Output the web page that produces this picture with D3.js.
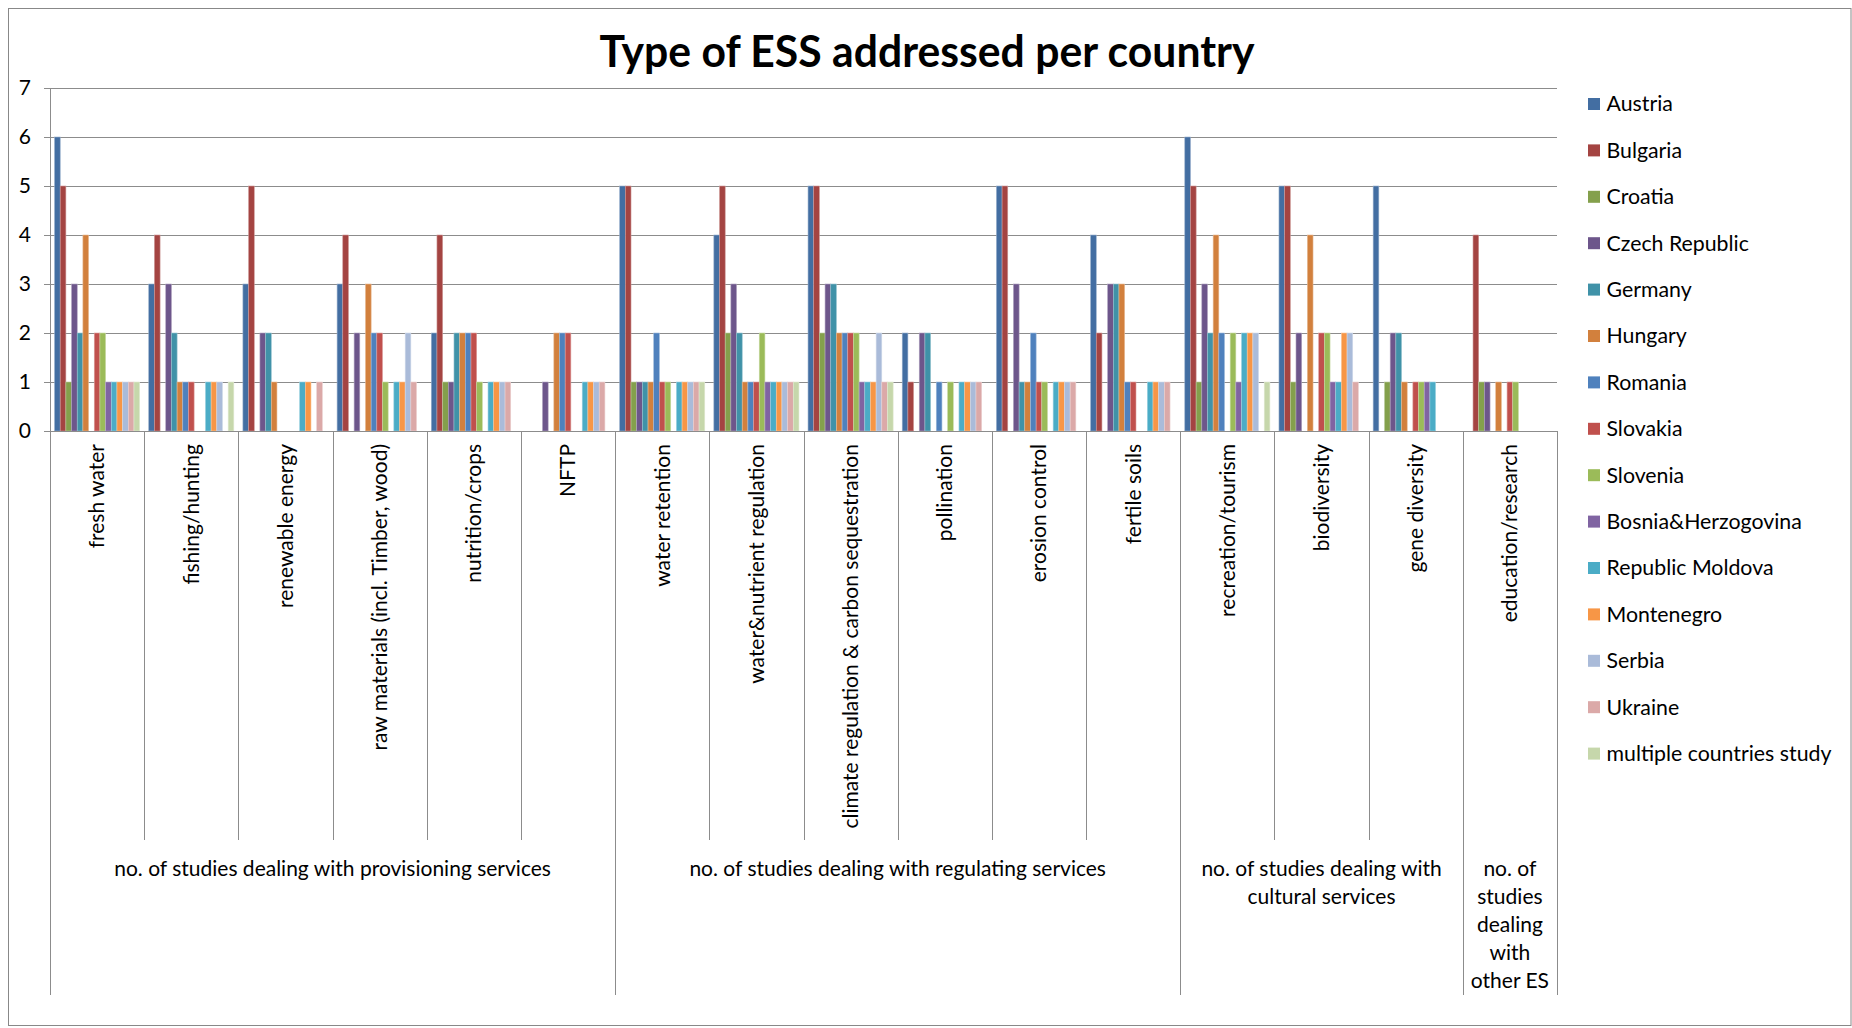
<!DOCTYPE html>
<html>
<head>
<meta charset="utf-8">
<title>Type of ESS addressed per country</title>
<script src="https://cdn.jsdelivr.net/npm/d3@7"></script>
<style>
  html, body { margin: 0; padding: 0; background: #fff; }
  svg { display: block; }
  text { font-family: Lato, "Open Sans", "Liberation Sans", sans-serif; fill: #000; }
</style>
</head>
<body>
<svg id="chart" width="1852" height="1028"></svg>
<script>
// ---- data ----
const categories = [
  "fresh water", "fishing/hunting", "renewable energy",
  "raw materials (incl. Timber, wood)", "nutrition/crops", "NFTP",
  "water retention", "water&nutrient regulation",
  "climate regulation & carbon sequestration", "pollination",
  "erosion control", "fertile soils",
  "recreation/tourism", "biodiversity", "gene diversity",
  "education/research"
];

const groupLabels = [
  ["no. of studies dealing with provisioning services"],
  ["no. of studies dealing with regulating services"],
  ["no. of studies dealing with", "cultural services"],
  ["no. of", "studies", "dealing", "with", "other ES"]
];
const groupSizes = [6, 6, 3, 1];

const series = [
  "Austria", "Bulgaria", "Croatia", "Czech Republic", "Germany", "Hungary",
  "Romania", "Slovakia", "Slovenia", "Bosnia&Herzogovina", "Republic Moldova",
  "Montenegro", "Serbia", "Ukraine", "multiple countries study"
];

// number of studies per service, one array per country (same order as categories)
const austria      = [6, 3, 3, 3, 2, 0, 5, 4, 5, 2, 5, 4, 6, 5, 5, 0];
const bulgaria     = [5, 4, 5, 4, 4, 0, 5, 5, 5, 1, 5, 2, 5, 5, 0, 4];
const croatia      = [1, 0, 0, 0, 1, 0, 1, 2, 2, 0, 0, 0, 1, 1, 1, 1];
const czechRep     = [3, 3, 2, 2, 1, 1, 1, 3, 3, 2, 3, 3, 3, 2, 2, 1];
const germany      = [2, 2, 2, 0, 2, 0, 1, 2, 3, 2, 1, 3, 2, 0, 2, 0];
const hungary      = [4, 1, 1, 3, 2, 2, 1, 1, 2, 0, 1, 3, 4, 4, 1, 1];
const romania      = [0, 1, 0, 2, 2, 2, 2, 1, 2, 1, 2, 1, 2, 0, 0, 0];
const slovakia     = [2, 1, 0, 2, 2, 2, 1, 1, 2, 0, 1, 1, 0, 2, 1, 1];
const slovenia     = [2, 0, 0, 1, 1, 0, 1, 2, 2, 1, 1, 0, 2, 2, 1, 1];
const bosnia       = [1, 0, 0, 0, 0, 0, 0, 1, 1, 0, 0, 0, 1, 1, 1, 0];
const moldova      = [1, 1, 1, 1, 1, 1, 1, 1, 1, 1, 1, 1, 2, 1, 1, 0];
const montenegro   = [1, 1, 1, 1, 1, 1, 1, 1, 1, 1, 1, 1, 2, 2, 0, 0];
const serbia       = [1, 1, 0, 2, 1, 1, 1, 1, 2, 1, 1, 1, 2, 2, 0, 0];
const ukraine      = [1, 0, 1, 1, 1, 1, 1, 1, 1, 1, 1, 1, 0, 1, 0, 0];
const multiCountry = [1, 1, 0, 0, 0, 0, 1, 1, 1, 0, 0, 0, 1, 0, 0, 0];

const seriesValues = [
  austria, bulgaria, croatia, czechRep, germany, hungary, romania, slovakia,
  slovenia, bosnia, moldova, montenegro, serbia, ukraine, multiCountry
];

const yTicks = [0, 1, 2, 3, 4, 5, 6, 7];

// ---- styling ----
const colors = [
  "#436EA2", "#A44442", "#84A04C", "#6D568B", "#4092A8", "#D2803D",
  "#4F81BD", "#C0504D", "#9BBB59", "#8064A2", "#4BACC6", "#F79646",
  "#AABBD9", "#DBA9A8", "#C6D7AB"
];

const svg = d3.select("#chart");
const W = 1852, H = 1028;
const plot = { left: 50, right: 1557, top: 88, bottom: 431 };
const gridColor = "#8c8c8c";
const fontSize = 21;

// chart frame
svg.append("rect")
  .attr("x", 8.5).attr("y", 8.5)
  .attr("width", W - 9.5).attr("height", H - 11)
  .attr("fill", "#fff").attr("stroke", "#888").attr("stroke-width", 1);

// scales
const y = d3.scaleLinear().domain([0, 7]).range([plot.bottom, plot.top]);
const x0 = d3.scaleBand().domain(categories).range([plot.left, plot.right]).padding(0);
const x1 = d3.scaleBand().domain(series).range([0, x0.bandwidth()])
  .paddingInner(0).paddingOuter(0.8);
const color = d3.scaleOrdinal().domain(series).range(colors);

// horizontal gridlines
const grid = svg.append("g")
  .attr("transform", `translate(${plot.left},0)`)
  .call(d3.axisLeft(y).tickValues(yTicks).tickSize(-(plot.right - plot.left)).tickFormat(""));
grid.select(".domain").remove();
grid.selectAll(".tick line").attr("stroke", gridColor).attr("shape-rendering", "crispEdges");

// bars
const rows = categories.map((c, ci) => ({
  category: c,
  values: series.map((s, si) => ({ series: s, value: seriesValues[si][ci] }))
}));

svg.append("g").selectAll("g")
  .data(rows)
  .join("g")
  .attr("transform", d => `translate(${x0(d.category)},0)`)
  .selectAll("rect")
  .data(d => d.values.filter(v => v.value > 0))
  .join("rect")
  .attr("x", d => x1(d.series))
  .attr("y", d => y(d.value))
  .attr("width", x1.bandwidth())
  .attr("height", d => y(0) - y(d.value))
  .attr("fill", d => color(d.series))
  .attr("stroke", d => d3.interpolateRgb(color(d.series), "#fff")(0.45))
  .attr("stroke-width", 0.6);

// value axis
const yAxis = svg.append("g")
  .attr("transform", `translate(${plot.left},0)`)
  .call(d3.axisLeft(y).tickValues(yTicks).tickSize(6).tickPadding(13).tickFormat(d3.format("d")));
yAxis.select(".domain").remove();
yAxis.selectAll(".tick line").attr("stroke", gridColor).attr("shape-rendering", "crispEdges");
yAxis.selectAll(".tick text")
  .style("font-family", "Lato, 'Open Sans', sans-serif")
  .style("font-size", fontSize + "px").attr("fill", "#000");

// category axis lines: category boundaries and group boundaries
const catBottom = 840, groupBottom = 995;
const boundaryX = categories.map(c => x0(c)).concat([plot.right]);
const groupEdges = [0];
groupSizes.forEach(n => groupEdges.push(groupEdges[groupEdges.length - 1] + n));

const axisLines = svg.append("g").attr("stroke", gridColor).attr("shape-rendering", "crispEdges");
axisLines.append("line")
  .attr("x1", plot.left).attr("x2", plot.left)
  .attr("y1", plot.top).attr("y2", plot.bottom);
axisLines.append("line")
  .attr("x1", plot.left).attr("x2", plot.right)
  .attr("y1", plot.bottom).attr("y2", plot.bottom);
axisLines.selectAll("line.b")
  .data(boundaryX.map((bx, i) => ({ x: bx, group: groupEdges.includes(i) })))
  .join("line")
  .attr("class", "b")
  .attr("x1", d => Math.round(d.x) + 0.5).attr("x2", d => Math.round(d.x) + 0.5)
  .attr("y1", plot.bottom).attr("y2", d => d.group ? groupBottom : catBottom);

// category labels (rotated)
svg.append("g").selectAll("text")
  .data(categories)
  .join("text")
  .attr("transform", d => `translate(${x0(d) + x0.bandwidth() / 2},444) rotate(-90)`)
  .attr("text-anchor", "end")
  .attr("dy", "0.35em")
  .style("font-size", fontSize + "px")
  .text(d => d);

// group labels
const groupG = svg.append("g");
groupLabels.forEach((lines, gi) => {
  const a = boundaryX[groupEdges[gi]], b = boundaryX[groupEdges[gi + 1]];
  const t = groupG.append("text")
    .attr("text-anchor", "middle")
    .style("font-size", fontSize + "px");
  lines.forEach((ln, li) => {
    t.append("tspan")
      .attr("x", (a + b) / 2)
      .attr("y", 869 + li * 28)
      .attr("dy", "0.35em")
      .text(ln);
  });
});

// title
const title = svg.append("text")
  .attr("x", 927).attr("y", 67)
  .attr("text-anchor", "middle")
  .style("font-size", "44px")
  .style("font-weight", "bold")
  .text("Type of ESS addressed per country");
const tw = title.node().getComputedTextLength();
if (tw > 655) title.attr("textLength", 655).attr("lengthAdjust", "spacingAndGlyphs");

// legend
const legend = svg.append("g").selectAll("g")
  .data(series)
  .join("g")
  .attr("transform", (d, i) => `translate(1588,${104 + i * 46.4})`);
legend.append("rect")
  .attr("x", 0).attr("y", -6).attr("width", 12).attr("height", 12)
  .attr("fill", d => color(d));
legend.append("text")
  .attr("x", 18.5).attr("dy", "0.35em")
  .style("font-size", "21.3px")
  .text(d => d);
</script>
</body>
</html>
